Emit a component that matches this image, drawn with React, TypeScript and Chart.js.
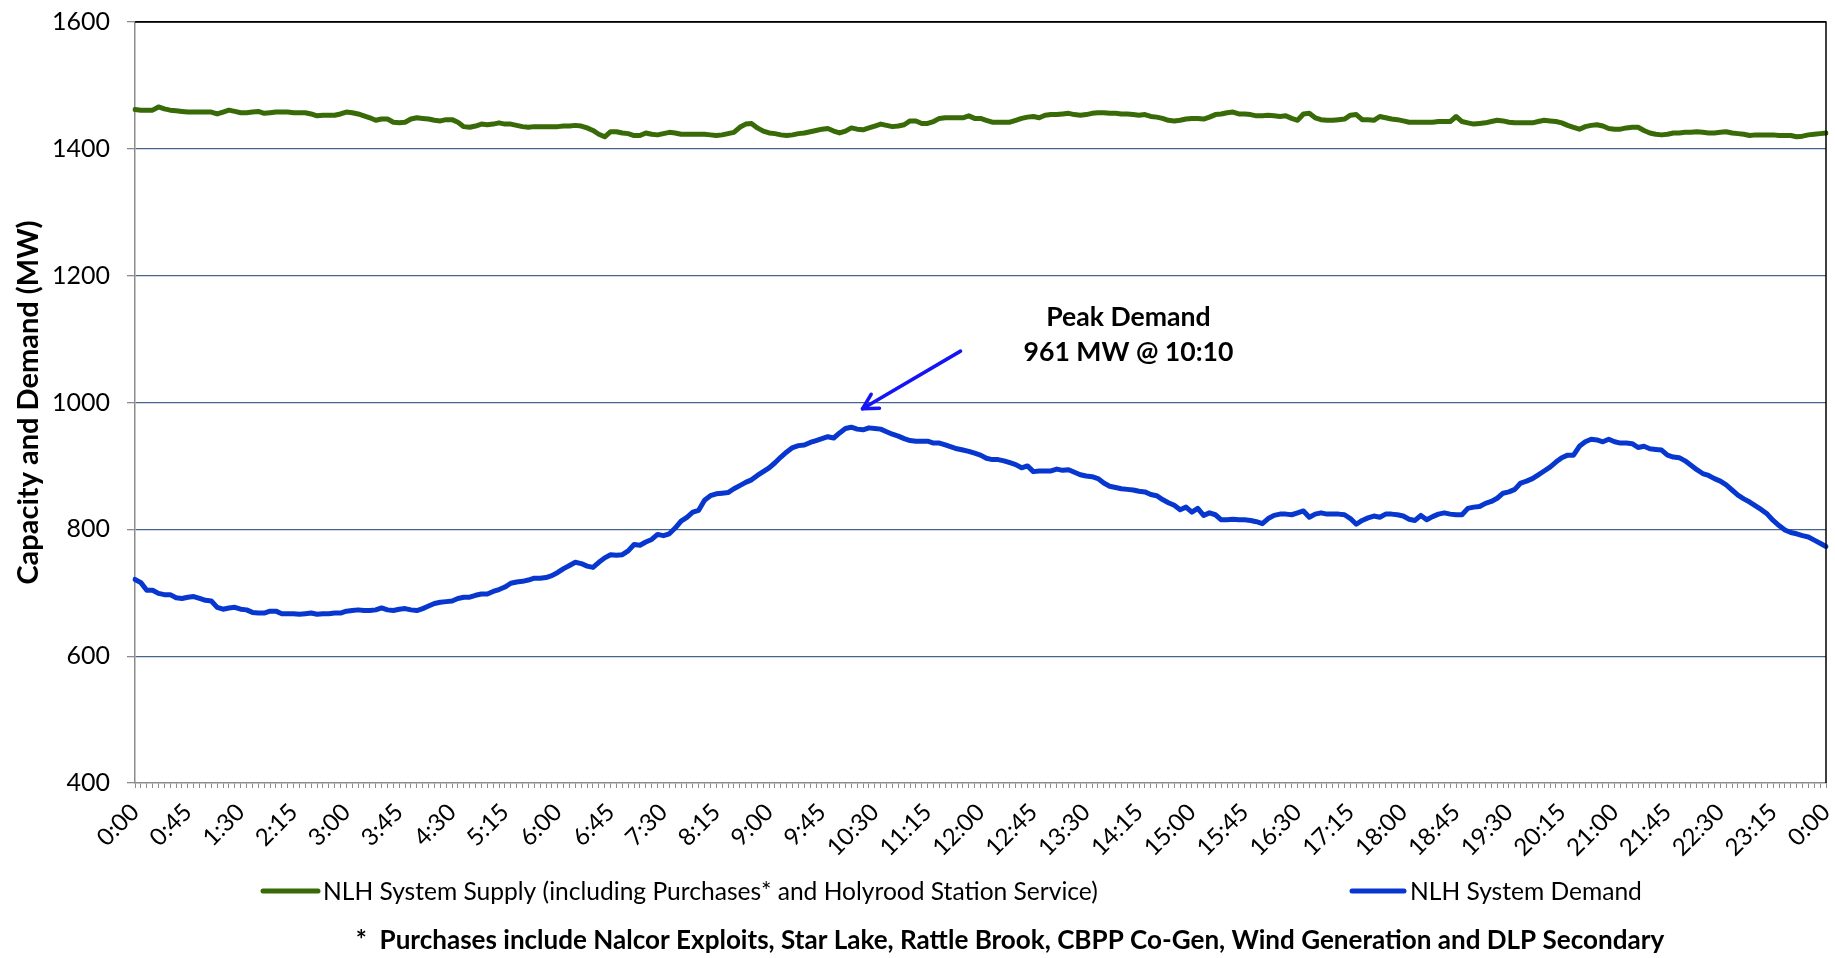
import React, { useEffect, useRef } from 'react';
import { Chart, registerables } from 'chart.js';

Chart.register(...registerables);

// ---- Categories: 5-minute intervals from 0:00 to 0:00 (next day) ----
const timeLabels: string[] = [];
for (let m = 0; m <= 1440; m += 5) {
  const mm = m % 1440;
  timeLabels.push(`${Math.floor(mm / 60)}:${String(mm % 60).padStart(2, '0')}`);
}
const labelEvery = 9; // one visible tick label every 45 minutes

// ---- Series: NLH System Supply (MW) ----
const supplyMW: number[] = [
  1462, 1461, 1461, 1461, 1466, 1463, 1461, 1460, 1459, 1458, 1458, 1458, 1458, 1458, 1455, 1458,
  1461, 1459, 1457, 1457, 1458, 1459, 1456, 1457, 1458, 1458, 1458, 1457, 1457, 1457, 1455, 1452,
  1453, 1453, 1453, 1455, 1458, 1457, 1455, 1452, 1449, 1445, 1447, 1447, 1442, 1441, 1442, 1447,
  1449, 1448, 1447, 1445, 1444, 1446, 1446, 1442, 1435, 1434, 1436, 1439, 1438, 1439, 1441, 1439,
  1439, 1437, 1435, 1434, 1435, 1435, 1435, 1435, 1435, 1436, 1436, 1437, 1436, 1433, 1429, 1423,
  1419, 1427, 1427, 1425, 1424, 1421, 1421, 1425, 1423, 1422, 1424, 1426, 1425, 1423, 1423, 1423,
  1423, 1423, 1422, 1421, 1422, 1424, 1426, 1434, 1439, 1440, 1433, 1428, 1425, 1424, 1422, 1421,
  1422, 1424, 1425, 1427, 1429, 1431, 1432, 1428, 1425, 1428, 1433, 1431, 1430, 1433, 1436, 1439,
  1437, 1435, 1436, 1438, 1444, 1444, 1440, 1440, 1443, 1448, 1449, 1449, 1449, 1449, 1452, 1448,
  1448, 1445, 1442, 1442, 1442, 1442, 1445, 1448, 1450, 1451, 1449, 1453, 1454, 1454, 1455, 1456,
  1454, 1453, 1454, 1456, 1457, 1457, 1456, 1456, 1455, 1455, 1454, 1453, 1454, 1451, 1450, 1448,
  1445, 1444, 1445, 1447, 1448, 1448, 1447, 1450, 1454, 1455, 1457, 1458, 1455, 1455, 1454, 1452,
  1452, 1453, 1452, 1451, 1452, 1448, 1445, 1455, 1456, 1449, 1446, 1445, 1445, 1446, 1447, 1453,
  1454, 1446, 1446, 1445, 1451, 1449, 1447, 1446, 1444, 1442, 1442, 1442, 1442, 1442, 1443, 1443,
  1443, 1451, 1443, 1441, 1439, 1440, 1441, 1443, 1445, 1444, 1442, 1441, 1441, 1441, 1441, 1443,
  1445, 1444, 1443, 1441, 1437, 1434, 1431, 1435, 1437, 1438, 1436, 1432, 1431, 1431, 1433, 1434,
  1434, 1429, 1425, 1423, 1422, 1423, 1425, 1425, 1426, 1426, 1427, 1426, 1425, 1425, 1426, 1427,
  1425, 1424, 1423, 1421, 1422, 1422, 1422, 1422, 1421, 1421, 1421, 1419, 1420, 1422, 1423, 1424,
  1425,
];

// ---- Series: NLH System Demand (MW) ----
const demandMW: number[] = [
  721, 716, 704, 704, 699, 697, 697, 692, 691, 693, 694, 691, 688, 687, 677, 674,
  676, 677, 674, 673, 669, 668, 668, 671, 671, 667, 667, 667, 666, 667, 668, 666,
  667, 667, 668, 668, 671, 672, 673, 672, 672, 673, 676, 673, 672, 674, 675, 673,
  672, 675, 679, 683, 685, 686, 687, 691, 693, 693, 696, 698, 698, 702, 705, 709,
  715, 717, 718, 720, 723, 723, 724, 727, 732, 738, 743, 748, 746, 742, 740, 748,
  755, 760, 759, 760, 766, 776, 775, 780, 784, 792, 790, 793, 802, 813, 819, 827,
  830, 846, 853, 856, 857, 858, 864, 869, 874, 878, 885, 891, 897, 905, 914, 922,
  929, 932, 933, 937, 940, 943, 946, 944, 952, 959, 961, 958, 957, 960, 959, 958,
  954, 950, 947, 943, 940, 939, 939, 939, 936, 936, 933, 930, 927, 925, 923, 920,
  917, 912, 910, 910, 908, 905, 902, 897, 900, 891, 892, 892, 892, 895, 893, 894,
  890, 886, 884, 883, 880, 873, 868, 866, 864, 863, 862, 860, 859, 855, 853, 847,
  842, 838, 831, 835, 827, 833, 822, 826, 823, 815, 815, 816, 815, 815, 814, 812,
  809, 817, 822, 824, 824, 823, 826, 829, 819, 824, 826, 824, 824, 824, 823, 817,
  808, 814, 818, 821, 819, 824, 824, 823, 821, 816, 814, 822, 815, 820, 824, 826,
  824, 823, 823, 833, 835, 836, 841, 844, 849, 857, 859, 863, 873, 876, 880, 886,
  892, 898, 906, 913, 917, 917, 931, 938, 942, 941, 938, 942, 938, 936, 936, 935,
  929, 931, 927, 926, 925, 917, 914, 913, 908, 901, 894, 888, 885, 880, 876, 870,
  862, 854, 848, 843, 837, 831, 824, 814, 806, 799, 795, 793, 790, 788, 783, 778,
  773,
];

// ---- Y axis ticks ----
const yMin = 400;
const yMax = 1600;
const yStep = 200;

// ---- Text ----
const seriesNames = [
  'NLH System Supply (including Purchases* and Holyrood Station Service)',
  'NLH System Demand',
];
const yTitle = 'Capacity and Demand (MW)';
const peakLines = ['Peak Demand', '961 MW @ 10:10'];
const footnote =
  '*  Purchases include Nalcor Exploits, Star Lake, Rattle Brook, CBPP Co-Gen, Wind Generation and DLP Secondary';

// annotation anchors in data space: [category index, MW]
const peakTextAt: [number, number][] = [
  [169.2, 1134],
  [169.2, 1079],
];
const arrowTail: [number, number] = [140.6, 1081];
const arrowTip: [number, number] = [123.9, 990];

const GREEN = '#386b08';
const BLUE = '#0737cf';
const ARROW = '#1414f5';
const FONT = 'Lato';

function fitSize(ctx: CanvasRenderingContext2D, text: string, weight: string, target: number) {
  ctx.font = `${weight} 100px ${FONT}`;
  const w = ctx.measureText(text).width;
  return (100 * target) / w;
}

const overlayPlugin = {
  id: 'overlay',
  afterDraw(chart: any) {
    const { ctx, chartArea: ca, scales } = chart;
    const x = scales.x;
    const y = scales.y;
    ctx.save();

    // plot-area border: top and right in black
    ctx.strokeStyle = '#000';
    ctx.lineWidth = 1.5;
    ctx.beginPath();
    ctx.moveTo(ca.left, ca.top);
    ctx.lineTo(ca.right, ca.top);
    ctx.lineTo(ca.right, ca.bottom);
    ctx.stroke();

    // arrow
    const tx = x.getPixelForValue(arrowTip[0]);
    const ty = y.getPixelForValue(arrowTip[1]);
    const sx = x.getPixelForValue(arrowTail[0]);
    const sy = y.getPixelForValue(arrowTail[1]);
    ctx.strokeStyle = ARROW;
    ctx.lineWidth = 3.5;
    ctx.lineCap = 'round';
    ctx.lineJoin = 'round';
    ctx.beginPath();
    ctx.moveTo(sx, sy);
    ctx.lineTo(tx, ty);
    ctx.stroke();
    const ang = Math.atan2(ty - sy, tx - sx);
    const hl = 17;
    ctx.beginPath();
    ctx.moveTo(tx - hl * Math.cos(ang - 0.5), ty - hl * Math.sin(ang - 0.5));
    ctx.lineTo(tx, ty);
    ctx.lineTo(tx - hl * Math.cos(ang + 0.5), ty - hl * Math.sin(ang + 0.5));
    ctx.stroke();

    // annotation text
    const annSize = fitSize(ctx, peakLines[1], 'bold', 210);
    ctx.font = `bold ${annSize}px ${FONT}`;
    ctx.fillStyle = '#000';
    ctx.textAlign = 'center';
    ctx.textBaseline = 'middle';
    peakLines.forEach((t, k) => {
      ctx.fillText(t, x.getPixelForValue(peakTextAt[k][0]), y.getPixelForValue(peakTextAt[k][1]));
    });

    // legend
    const legY = 891;
    const items = [
      { color: GREEN, x0: 263, x1: 318, tx: 323, w: 775, text: seriesNames[0] },
      { color: BLUE, x0: 1352, x1: 1404, tx: 1410, w: 226, text: seriesNames[1] },
    ];
    const legSize = fitSize(ctx, items[0].text, 'normal', items[0].w);
    items.forEach((it) => {
      ctx.strokeStyle = it.color;
      ctx.lineWidth = 5;
      ctx.lineCap = 'round';
      ctx.beginPath();
      ctx.moveTo(it.x0, legY);
      ctx.lineTo(it.x1, legY);
      ctx.stroke();
      ctx.font = `normal ${legSize}px ${FONT}`;
      ctx.fillStyle = '#000';
      ctx.textAlign = 'left';
      ctx.textBaseline = 'middle';
      ctx.fillText(it.text, it.tx, legY + 1);
    });

    // footnote
    const fnSize = fitSize(ctx, footnote, 'bold', 1309);
    ctx.font = `bold ${fnSize}px ${FONT}`;
    ctx.textAlign = 'center';
    ctx.textBaseline = 'middle';
    ctx.fillText(footnote, 1010, 941);

    ctx.restore();
  },
};

export default function App() {
  const canvasRef = useRef<HTMLCanvasElement | null>(null);

  useEffect(() => {
    document.body.style.margin = '0';
    const canvas = canvasRef.current;
    if (!canvas) return;
    const chart = new Chart(canvas, {
      type: 'line',
      data: {
        labels: timeLabels,
        datasets: [
          {
            label: seriesNames[0],
            data: supplyMW,
            borderColor: GREEN,
            backgroundColor: GREEN,
            borderWidth: 5,
            pointRadius: 0,
            tension: 0,
            borderJoinStyle: 'round',
            borderCapStyle: 'round',
          },
          {
            label: seriesNames[1],
            data: demandMW,
            borderColor: BLUE,
            backgroundColor: BLUE,
            borderWidth: 5,
            pointRadius: 0,
            tension: 0,
            borderJoinStyle: 'round',
            borderCapStyle: 'round',
          },
        ],
      },
      options: {
        animation: false,
        responsive: false,
        maintainAspectRatio: false,
        events: [],
        layout: { padding: { top: 22, right: 9, bottom: 85, left: 0 } },
        plugins: {
          legend: { display: false },
          tooltip: { enabled: false },
        },
        scales: {
          x: {
            type: 'category',
            offset: false,
            grid: {
              drawOnChartArea: false,
              drawTicks: true,
              tickLength: 5,
              tickColor: '#8c8c8c',
              tickWidth: 1,
            },
            border: { color: '#8c8c8c', width: 1.5 },
            ticks: {
              autoSkip: false,
              minRotation: 45,
              maxRotation: 45,
              padding: 10,
              color: '#000',
              font: { family: FONT, size: 24 },
              callback: (_v: any, i: number) => (i % labelEvery === 0 ? timeLabels[i] : ''),
            },
            afterFit: (s: any) => {
              s.height = 90;
              s.paddingLeft = 0;
              s.paddingRight = 0;
            },
          },
          y: {
            min: yMin,
            max: yMax,
            ticks: {
              stepSize: yStep,
              color: '#000',
              padding: 17,
              font: { family: FONT, size: 25 },
              callback: (v: any) => String(v),
            },
            grid: {
              color: (c: any) =>
                c.tick && c.tick.value === yMax ? '#000' : c.tick && c.tick.value === yMin ? 'rgba(0,0,0,0)' : '#47648f',
              lineWidth: 1.3,
              tickLength: 8,
              tickColor: '#8c8c8c',
              tickWidth: 1.3,
            },
            border: { color: '#8c8c8c', width: 1.5 },
            title: {
              display: true,
              text: yTitle,
              color: '#000',
              font: { family: FONT, size: 29, weight: 'bold' },
              padding: { top: 11, bottom: 0 },
            },
            afterFit: (s: any) => {
              s.width = 135;
              s.paddingTop = 0;
              s.paddingBottom = 0;
            },
          },
        },
      },
      plugins: [overlayPlugin],
    } as any);
    return () => chart.destroy();
  }, []);

  return (
    <div style={{ position: 'fixed', left: 0, top: 0, width: 1835, height: 958, background: '#fff' }}>
      <canvas ref={canvasRef} width={1835} height={958} style={{ display: 'block', width: 1835, height: 958 }} />
    </div>
  );
}
